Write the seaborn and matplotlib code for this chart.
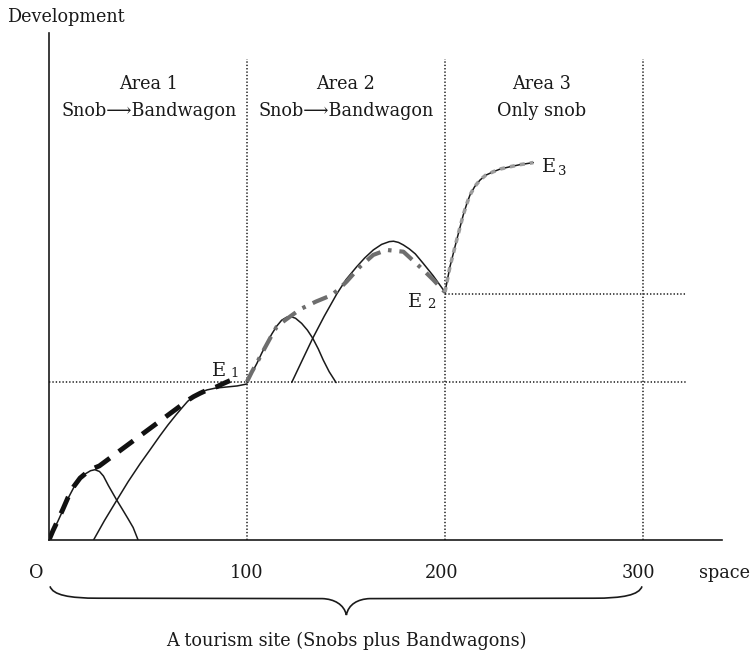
import matplotlib
matplotlib.use("Agg")
import matplotlib.pyplot as plt
import seaborn as sns
from matplotlib.path import Path
from matplotlib.patches import PathPatch

# ---------------- data ----------------
snob1_x = [0, 2, 4.5, 7, 9.6, 12.5, 15.7, 18.5, 21, 23.2, 25.5, 27.5, 30, 34, 37, 40, 42.5, 45]
snob1_y = [0, 4.5, 9.5, 15, 21, 26.5, 30.8, 33.5, 35, 35.5, 34.6, 32.3, 27.5, 20.5, 15.6, 10.6, 6.3, 0]

band1_x = [22.5, 28, 34.3, 40, 46, 51, 56, 60, 64, 67.2, 70, 72.7, 76, 79.8, 84, 89.9, 95, 100]
band1_y = [0, 9.8, 20.2, 29.5, 38.5, 45.5, 52.6, 58.0, 63.0, 66.8, 70.0, 72.3, 74.3, 75.8, 76.7, 77.3, 77.8, 78.8]

path1_x = [0, 2, 4.5, 7, 9.6, 12.5, 15.7, 18.7, 22, 25.4, 67, 70, 73, 76.3, 80, 84.7, 88, 91.4]
path1_y = [0, 4.7, 10, 15.5, 21.5, 27, 31.3, 33.8, 36, 37.4, 68.2, 70.5, 72.4, 74.1, 75.8, 77.4, 79, 80.5]

snob2_x = [100, 102.5, 105, 107.5, 110, 112.5, 115, 117.5, 120, 122.2, 124.5, 127.6, 130.5, 133.2, 136, 138.5, 141.5, 145]
snob2_y = [79.5, 84.5, 89.2, 94.5, 99.3, 104, 108, 111, 112.5, 112.8, 112, 109.4, 106, 101.9, 96.5, 90.9, 85, 79.5]

band2_x = [122.6, 128, 133.2, 139, 145.3, 150, 155.4, 159.5, 163.8, 168, 171.9, 174, 176.5, 179, 182, 185, 189, 194, 199.2, 200]
band2_y = [79.6, 91, 101.9, 113, 124.2, 131.5, 138, 142.5, 146.5, 149.3, 150.7, 150.9, 150.3, 149, 147, 144.5, 139.7, 133.5, 126.3, 125.2]

path2_x = [100, 102.5, 105, 109, 112, 115, 119.2, 126.8, 134.8, 142.8, 146.5, 150.3, 157, 163.8, 170.5, 179, 189, 194, 200]
path2_y = [80, 85, 89.5, 97, 102.5, 107.7, 111, 116.5, 120.4, 123.7, 126.8, 130.5, 138, 144, 146.5, 145.6, 136.4, 131.5, 125.2]

area3_x = [200, 202.5, 205.9, 209.2, 211, 212.6, 215, 217.7, 220.5, 224.4, 228, 232.8, 238, 244.6]
area3_y = [125.2, 138, 151.5, 164.1, 169.8, 174.2, 178.5, 181.8, 184.2, 186, 187.4, 188.5, 189.6, 190.6]

e1_level = 80
e2_level = 124
area_bounds = [100, 200, 300]
x_tick_labels = ["100", "200", "300"]
area_titles = ["Area 1", "Area 2", "Area 3"]
area_subtitles = ["Snob\u27f6Bandwagon", "Snob\u27f6Bandwagon", "Only snob"]
area_centers = [50.5, 150, 249]

# ---------------- style ----------------
sns.set_theme(style="white")
plt.rcParams["font.family"] = ["DejaVu Serif", "DejaVu Sans"]
plt.rcParams["text.color"] = "#1a1a1a"

W, H = 754, 652
fig = plt.figure(figsize=(W / 100, H / 100), dpi=100)
fig.patch.set_facecolor("white")
S = 1.98  # px per data unit
ax = fig.add_axes([49 / W, 112 / H, 673 / W, 507 / H])
ax.set_xlim(0, 673 / S)
ax.set_ylim(0, 507 / S)
ax.set_facecolor("white")
for side in ["top", "right"]:
    ax.spines[side].set_visible(False)
for side in ["left", "bottom"]:
    ax.spines[side].set_color("#1a1a1a")
    ax.spines[side].set_linewidth(1.2)
ax.set_xticks([])
ax.set_yticks([])

dot = (0, (0.9, 1.3))
# dotted guides
for xb in area_bounds:
    ax.plot([xb, xb], [0, 243], color="#1a1a1a", lw=1.1, linestyle=dot, clip_on=False)
ax.plot([0, 322], [e1_level, e1_level], color="#1a1a1a", lw=1.1, linestyle=dot, clip_on=False)
ax.plot([200, 322], [e2_level, e2_level], color="#1a1a1a", lw=1.1, linestyle=dot, clip_on=False)

def thin(x, y):
    sns.lineplot(x=x, y=y, ax=ax, sort=False, estimator=None, color="#1a1a1a",
                 lw=1.1, legend=False, solid_joinstyle="round")

thin(snob1_x, snob1_y)
thin(band1_x, band1_y)
thin(snob2_x, snob2_y)
thin(band2_x, band2_y)
thin(area3_x, area3_y)

sns.lineplot(x=path1_x, y=path1_y, ax=ax, sort=False, estimator=None, color="#111111",
             lw=3.5, linestyle=(0, (3.7, 2.3)), legend=False)
sns.lineplot(x=path2_x, y=path2_y, ax=ax, sort=False, estimator=None, color="#6e6e6e",
             lw=3.0, linestyle=(0, (3.8, 1.9, 0.85, 1.9)), legend=False)
sns.lineplot(x=area3_x, y=area3_y, ax=ax, sort=False, estimator=None, color="#9c9c9c",
             lw=2.6, linestyle=(0, (1.4, 1.4)), legend=False)

fs = 12.7
# area labels
for cx, t1, t2 in zip(area_centers, area_titles, area_subtitles):
    ax.text(cx, 227.8, t1, ha="center", va="baseline", fontsize=fs, clip_on=False)
    ax.text(cx, 214.3, t2, ha="center", va="baseline", fontsize=fs, clip_on=False)

# axis texts
ax.text(-21.2, 261.8, "Development", ha="left", va="baseline", fontsize=fs, clip_on=False)
ax.text(-6.6, -19.2, "O", ha="center", va="baseline", fontsize=fs, clip_on=False)
for xb, lab, off in zip(area_bounds, x_tick_labels, [0, -1.5, -2.5]):
    ax.text(xb + off, -19.2, lab, ha="center", va="baseline", fontsize=fs, clip_on=False)
ax.text(341.4, -19.2, "space", ha="center", va="baseline", fontsize=fs, clip_on=False)
ax.text(150, -53.5, "A tourism site (Snobs plus Bandwagons)", ha="center", va="baseline",
        fontsize=fs, clip_on=False)

# E labels
for ex, ey, sx, sy, sub in [(82.2, 82.8, 91.4, 82.3, "1"),
                            (181.3, 117.7, 190.9, 117.2, "2"),
                            (248.8, 185.9, 257.0, 184.2, "3")]:
    ax.text(ex, ey, "E", ha="left", va="baseline", fontsize=14, clip_on=False)
    ax.text(sx, sy, sub, ha="left", va="baseline", fontsize=9.5, clip_on=False)

# brace under the axis
verts = [(0.5, -23.4), (2, -27.8), (10, -29.4), (25, -29.4),
         (138, -29.6),
         (144, -29.8), (149, -32.5), (150.2, -37.9),
         (151.2, -32.5), (156, -29.8), (162, -29.6),
         (275, -29.4),
         (290, -29.4), (298, -27.8), (299.5, -23.4)]
codes = [Path.MOVETO, Path.CURVE4, Path.CURVE4, Path.CURVE4,
         Path.LINETO,
         Path.CURVE4, Path.CURVE4, Path.CURVE4,
         Path.CURVE4, Path.CURVE4, Path.CURVE4,
         Path.LINETO,
         Path.CURVE4, Path.CURVE4, Path.CURVE4]
ax.add_patch(PathPatch(Path(verts, codes), facecolor="none", edgecolor="#1a1a1a",
                       lw=1.2, clip_on=False))

fig.savefig("out.png", dpi=100, facecolor="white")
